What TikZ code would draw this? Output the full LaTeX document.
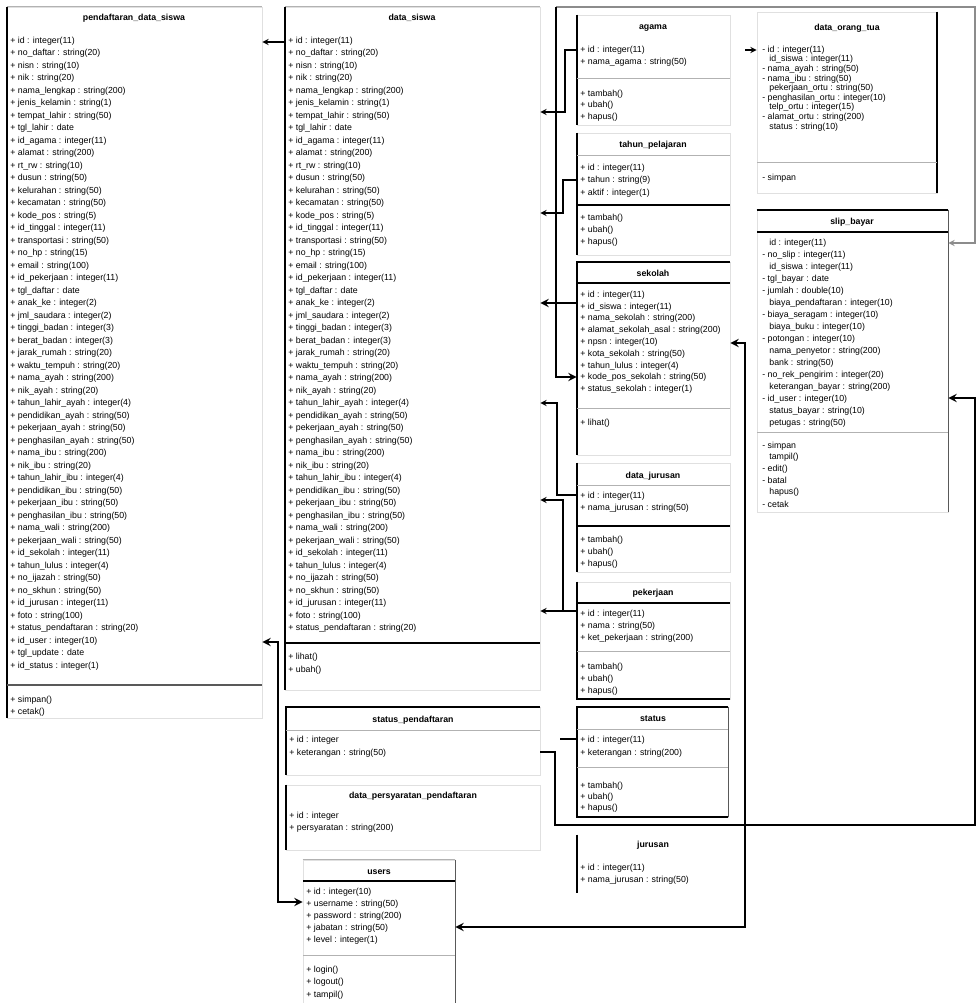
\documentclass[tikz,border=0pt]{standalone}
\usepackage{fontspec}
\setmainfont{Liberation Sans}
\usetikzlibrary{fit}

\begin{document}
\begin{tikzpicture}[x=0.02cm,y=-0.02cm,
  box/.style={draw=black!12,line width=0.4pt,inner sep=0pt},
  attr/.style={anchor=west,inner sep=0pt,font=\fontsize{5}{6}\selectfont},
  ttl/.style={inner sep=0pt,font=\fontsize{5}{6}\selectfont\bfseries},
  thk/.style={line width=1.1pt},
  lite/.style={draw=black!30,line width=0.5pt},
  sep/.style={draw=black!65,line width=0.8pt},
  conn/.style={line width=0.6pt,>=stealth}]
  % Page
  \fill[white] (0,0) rectangle (977,1003);
  \useasboundingbox (0,0) rectangle (977,1003);

  % Shared attribute list
  \def\siswarows{id : integer(11), no\_daftar : string(20), nisn : string(10), nik : string(20),
    nama\_lengkap : string(200), jenis\_kelamin : string(1), tempat\_lahir : string(50), tgl\_lahir : date,
    id\_agama : integer(11), alamat : string(200), rt\_rw : string(10), dusun : string(50),
    kelurahan : string(50), kecamatan : string(50), kode\_pos : string(5), id\_tinggal : integer(11),
    transportasi : string(50), no\_hp : string(15), email : string(100), id\_pekerjaan : integer(11),
    tgl\_daftar : date, anak\_ke : integer(2), jml\_saudara : integer(2), tinggi\_badan : integer(3),
    berat\_badan : integer(3), jarak\_rumah : string(20), waktu\_tempuh : string(20), nama\_ayah : string(200),
    nik\_ayah : string(20), tahun\_lahir\_ayah : integer(4), pendidikan\_ayah : string(50), pekerjaan\_ayah : string(50),
    penghasilan\_ayah : string(50), nama\_ibu : string(200), nik\_ibu : string(20), tahun\_lahir\_ibu : integer(4),
    pendidikan\_ibu : string(50), pekerjaan\_ibu : string(50), penghasilan\_ibu : string(50), nama\_wali : string(200),
    pekerjaan\_wali : string(50), id\_sekolah : integer(11), tahun\_lulus : integer(4), no\_ijazah : string(50),
    no\_skhun : string(50), id\_jurusan : integer(11), foto : string(100), status\_pendaftaran : string(20)}

  % Pendaftaran data siswa
  \node[box,fit={(7,7) (262,718)}] (PDS) {};
  \draw[lite] (PDS.north west) -- (PDS.north east);
  \draw[thk] (PDS.north west) -- (PDS.south west);
  \node[ttl] (PDS-t) at (134,18) {pendaftaran\_data\_siswa};
  \foreach \t [count=\i] in \siswarows
    \node[attr] (PD-\i) at (10,{41+(\i-1)*12.5}) {+ \t};
  \foreach \t [count=\i from 49] in {id\_user : integer(10), tgl\_update : date, id\_status : integer(1)}
    \node[attr] (PD-\i) at (10,{41+(\i-1)*12.5}) {+ \t};
  \draw[sep] (7,685) -- (262,685);
  \node[attr] (PD-m1) at (10,700) {+ simpan()};
  \node[attr] (PD-m2) at (10,712) {+ cetak()};

  % Data siswa
  \node[box,fit={(285,7) (540,690)}] (DS) {};
  \draw[lite] (DS.north west) -- (DS.north east);
  \draw[thk] (DS.north west) -- (DS.south west);
  \node[ttl] (DS-t) at (412,18) {data\_siswa};
  \foreach \t [count=\i] in \siswarows
    \node[attr] (DS-\i) at (288,{41+(\i-1)*12.5}) {+ \t};
  \draw[thk] (285,643) -- (540,643);
  \node[attr] (DS-m1) at (288,657) {+ lihat()};
  \node[attr] (DS-m2) at (288,670) {+ ubah()};

  % Agama
  \node[box,fit={(577,15) (730,125)}] (AG) {};
  \draw[thk] (AG.north west) -- (AG.south west);
  \node[ttl] (AG-t) at (653,28) {agama};
  \foreach \t [count=\i] in {id : integer(11), nama\_agama : string(50)}
    \node[attr] (AG-\i) at (580,{50+(\i-1)*12}) {+ \t};
  \draw[lite] (577,78) -- (730,78);
  \foreach \t [count=\i] in {tambah(), ubah(), hapus()}
    \node[attr] (AG-m\i) at (580,{94+(\i-1)*11.5}) {+ \t};

  % Tahun pelajaran
  \node[box,fit={(577,133) (730,255)}] (TP) {};
  \draw[thk] (TP.north west) -- (TP.south west);
  \node[ttl] (TP-t) at (653,145) {tahun\_pelajaran};
  \draw[lite] (577,155) -- (730,155);
  \foreach \t [count=\i] in {id : integer(11), tahun : string(9), aktif : integer(1)}
    \node[attr] (TP-\i) at (580,{168+(\i-1)*12.5}) {+ \t};
  \draw[thk] (577,205) -- (730,205);
  \foreach \t [count=\i] in {tambah(), ubah(), hapus()}
    \node[attr] (TP-m\i) at (580,{218+(\i-1)*12}) {+ \t};

  % Sekolah asal
  \node[box,fit={(577,262) (730,455)}] (SK) {};
  \draw[thk] (SK.north east) -- (SK.north west) -- (SK.south west);
  \node[ttl] (SK-t) at (653,273) {sekolah};
  \draw[thk] (577,283) -- (730,283);
  \foreach \t [count=\i] in {id : integer(11), id\_siswa : integer(11), nama\_sekolah : string(200),
      alamat\_sekolah\_asal : string(200), npsn : integer(10), kota\_sekolah : string(50),
      tahun\_lulus : integer(4), kode\_pos\_sekolah : string(50), status\_sekolah : integer(1)}
    \node[attr] (SK-\i) at (580,{295+(\i-1)*11.8}) {+ \t};
  \draw[lite] (577,408) -- (730,408);
  \node[attr] (SK-m1) at (580,423) {+ lihat()};

  % Data jurusan
  \node[box,fit={(577,463) (730,572)}] (DJ) {};
  \draw[thk] (DJ.north west) -- (DJ.south west);
  \node[ttl] (DJ-t) at (653,476) {data\_jurusan};
  \draw[lite] (577,485) -- (730,485);
  \foreach \t [count=\i] in {id : integer(11), nama\_jurusan : string(50)}
    \node[attr] (DJ-\i) at (580,{496+(\i-1)*12}) {+ \t};
  \draw[thk] (577,526) -- (730,526);
  \foreach \t [count=\i] in {tambah(), ubah(), hapus()}
    \node[attr] (DJ-m\i) at (580,{540+(\i-1)*12}) {+ \t};

  % Pekerjaan
  \node[box,fit={(577,582) (730,699)}] (PK) {};
  \draw[thk] (PK.north west) -- (PK.south west) -- (PK.south east);
  \node[ttl] (PK-t) at (653,593) {pekerjaan};
  \draw[thk] (577,603) -- (730,603);
  \foreach \t [count=\i] in {id : integer(11), nama : string(50), ket\_pekerjaan : string(200)}
    \node[attr] (PK-\i) at (580,{614+(\i-1)*12}) {+ \t};
  \draw[lite] (577,651) -- (730,651);
  \foreach \t [count=\i] in {tambah(), ubah(), hapus()}
    \node[attr] (PK-m\i) at (580,{667+(\i-1)*12}) {+ \t};

  % Status
  \node[box,fit={(577,707) (728,817)}] (ST) {};
  \draw[thk] (ST.north east) -- (ST.north west) -- (ST.south west) -- (ST.south east);
  \draw[sep] (ST.north east) -- (ST.south east);
  \node[ttl] (ST-t) at (653,719) {status};
  \draw[lite] (577,729) -- (728,729);
  \foreach \t [count=\i] in {id : integer(11), keterangan : string(200)}
    \node[attr] (ST-\i) at (580,{740+(\i-1)*13}) {+ \t};
  \draw[lite] (577,767) -- (728,767);
  \foreach \t [count=\i] in {tambah(), ubah(), hapus()}
    \node[attr] (ST-m\i) at (580,{786+(\i-1)*11}) {+ \t};

  % Jurusan
  \node[box,draw=none,fit={(577,835) (730,893)}] (JR) {};
  \draw[thk] (JR.north west) -- (JR.south west);
  \node[ttl] (JR-t) at (653,845) {jurusan};
  \foreach \t [count=\i] in {id : integer(11), nama\_jurusan : string(50)}
    \node[attr] (JR-\i) at (580,{868+(\i-1)*12}) {+ \t};

  % Data orang tua
  \node[box,fit={(757,12) (937,193)}] (OT) {};
  \draw[thk] (OT.north east) -- (OT.south east);
  \node[ttl] (OT-t) at (847,28) {data\_orang\_tua};
  \foreach \t [count=\i] in {- id : integer(11), \hspace{4pt}id\_siswa : integer(11), - nama\_ayah : string(50),
      - nama\_ibu : string(50), \hspace{4pt}pekerjaan\_ortu : string(50), - penghasilan\_ortu : integer(10),
      \hspace{4pt}telp\_ortu : integer(15), - alamat\_ortu : string(200), \hspace{4pt}status : string(10)}
    \node[attr] (OT-\i) at (762,{50+(\i-1)*9.6}) {\t};
  \draw[lite] (757,162) -- (937,162);
  \node[attr] (OT-m1) at (762,178) {- simpan};

  % Slip bayar
  \node[box,fit={(757,210) (948,512)}] (SB) {};
  \draw[thk] (SB.north west) -- (SB.north east);
  \draw[sep] (SB.north east) -- (SB.south east);
  \node[ttl] (SB-t) at (852,222) {slip\_bayar};
  \draw[thk] (757,232) -- (948,232);
  \foreach \t [count=\i] in {\hspace{4pt}id : integer(11), - no\_slip : integer(11), \hspace{4pt}id\_siswa : integer(11),
      - tgl\_bayar : date, - jumlah : double(10), \hspace{4pt}biaya\_pendaftaran : integer(10),
      - biaya\_seragam : integer(10), \hspace{4pt}biaya\_buku : integer(10), - potongan : integer(10),
      \hspace{4pt}nama\_penyetor : string(200), \hspace{4pt}bank : string(50), - no\_rek\_pengirim : integer(20),
      \hspace{4pt}keterangan\_bayar : string(200), - id\_user : integer(10), \hspace{4pt}status\_bayar : string(10),
      \hspace{4pt}petugas : string(50)}
    \node[attr] (SB-\i) at (762,{243+(\i-1)*12}) {\t};
  \draw[lite] (757,432) -- (948,432);
  \foreach \t [count=\i] in {- simpan, \hspace{4pt}tampil(), - edit(), - batal, \hspace{4pt}hapus(), - cetak}
    \node[attr] (SB-m\i) at (762,{446+(\i-1)*11.6}) {\t};

  % Status pendaftaran
  \node[box,fit={(286,707) (540,775)}] (SP) {};
  \draw[thk] (SP.north east) -- (SP.north west) -- (SP.south west);
  \node[ttl] (SP-t) at (413,720) {status\_pendaftaran};
  \draw[lite] (286,730) -- (540,730);
  \foreach \t [count=\i] in {id : integer, keterangan : string(50)}
    \node[attr] (SP-\i) at (289,{740+(\i-1)*13}) {+ \t};

  % Data persyaratan pendaftaran
  \node[box,fit={(286,785) (540,850)}] (DP) {};
  \draw[thk] (DP.north west) -- (DP.south west);
  \node[ttl] (DP-t) at (413,796) {data\_persyaratan\_pendaftaran};
  \foreach \t [count=\i] in {id : integer, persyaratan : string(200)}
    \node[attr] (DP-\i) at (289,{816+(\i-1)*12}) {+ \t};

  % Users
  \node[box,fit={(303,860) (455,1003)}] (US) {};
  \draw[lite] (US.north west) -- (US.north east);
  \draw[sep] (US.north east) -- (US.south east);
  \node[ttl] (US-t) at (379,872) {users};
  \draw[thk] (303,881) -- (455,881);
  \foreach \t [count=\i] in {id : integer(10), username : string(50), password : string(200), jabatan : string(50), level : integer(1)}
    \node[attr] (US-\i) at (306,{892+(\i-1)*12}) {+ \t};
  \draw[lite] (303,955) -- (455,955);
  \foreach \t [count=\i] in {login(), logout(), tampil()}
    \node[attr] (US-m\i) at (306,{970+(\i-1)*12.5}) {+ \t};

  % Connectors
  \draw[conn,->] (DS.west |- 0,42) -- (PDS.east |- 0,42);
  \draw[conn,thk,<->] (PDS.east |- 0,642) -- (278,642) |- (US.west |- 0,902);
  \draw[conn,->] (AG.west |- 0,50) -| (565,112) -- (DS.east |- 0,112);
  \draw[conn,->] (TP.west |- 0,180) -| (563,213) -- (DS.east |- 0,213);
  \draw[conn,thk,->] (SK.west |- 0,303) -- (DS.east |- 0,303);
  \coordinate (topL) at (556,7);
  \draw[conn,draw=black!45,->] (topL) -| (975,243) -- (SB.east |- 0,243);
  \draw[conn,thk,->] (topL) |- (SK.west |- 0,377);
  \draw[conn,thk,<->] (US.east |- 0,927) -- (745,927) |- (SK.east |- 0,343);
  \draw[conn,->] (DJ.west |- 0,495) -| (557,403) -- (DS.east |- 0,403);
  \draw[conn,->] (PK.west |- 0,611) -| (563,500) -- (DS.east |- 0,500);
  \draw[conn,->] (PK.west |- 0,611) -- (DS.east |- 0,611);
  \draw[conn,thk,->] (SP.east |- 0,752) -| (555,825) -| (975,398) -- (SB.east |- 0,398);
  \coordinate (stst) at (560,739);
  \draw[conn,thk] (stst) -- (ST.west |- stst);
  \coordinate (otm) at (745,50);
  \draw[conn,->] (otm) -- (OT.west |- otm);
\end{tikzpicture}
\end{document}
